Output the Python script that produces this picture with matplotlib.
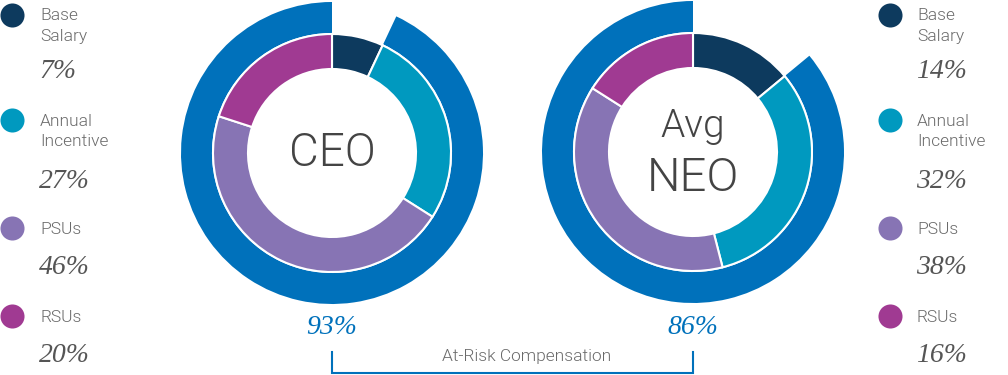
import matplotlib
matplotlib.use('Agg')
import matplotlib.pyplot as plt

# datos
categories = ['Base\nSalary', 'Annual\nIncentive', 'PSUs', 'RSUs']
ceo_mix = [7, 27, 46, 20]
neo_mix = [14, 32, 38, 16]
ceo_at_risk = 93
neo_at_risk = 86
center_labels = ['CEO', 'Avg\nNEO']

mix_colors = ['#0d3a5e', '#0099bf', '#8774b4', '#a03a92']
blue = '#0071bb'
grey = '#555555'
SANS = 'Roboto'
W = 300

fig = plt.figure(figsize=(10.08, 3.75), dpi=100)
ax = fig.add_axes([0, 0, 1, 1])
H = 375

def donut(cx, cy, mix, at_risk, label):
    # anillo exterior: compensacion en riesgo
    outer, _ = ax.pie([100 - at_risk, at_risk], colors=['white', blue],
                      startangle=90, counterclock=False, radius=151,
                      center=(cx, cy), wedgeprops=dict(width=31, linewidth=0))
    outer[0].set_visible(False)
    # anillo interior: mezcla
    ax.pie(mix, colors=mix_colors, startangle=90, counterclock=False,
           radius=119, center=(cx, cy),
           wedgeprops=dict(width=35, edgecolor='white', linewidth=1.5))
    if '\n' in label:
        top, bot = label.split('\n')
        ax.text(cx, cy + 26, top, ha='center', va='center', fontsize=28,
                family=SANS, weight=W, color='#444444')
        ax.text(cx, cy - 26, bot, ha='center', va='center', fontsize=34,
                family=SANS, weight=W, color='#444444')
    else:
        ax.text(cx, cy, label, ha='center', va='center', fontsize=33,
                family=SANS, weight=W, color='#444444')

donut(332, H - 153, ceo_mix, ceo_at_risk, center_labels[0])
donut(693, H - 152, neo_mix, neo_at_risk, center_labels[1])

# leyendas
dot_y = [15, 120, 228, 316]
pct_y = [72, 182, 267, 355]
for dx, tx, vals in [(12, 40, ceo_mix), (890, 917, neo_mix)]:
    for i, cat in enumerate(categories):
        ax.scatter([dx], [H - dot_y[i]], s=300, color=mix_colors[i],
                   linewidths=0, zorder=3)
        lines = cat.split('\n')
        for j, ln in enumerate(lines):
            ax.text(tx, H - (dot_y[i] + 1 + 21 * j), ln, ha='left',
                    va='center', fontsize=12.5, family=SANS, weight=W,
                    color='#6a6a6a')
        ax.text(tx - 1, H - pct_y[i], '%d%%' % vals[i], ha='left', va='center',
                fontsize=20, family='Liberation Serif', style='italic',
                color=grey)

# at-risk
ax.text(332, H - 328, '%d%%' % ceo_at_risk, ha='center', va='center',
        fontsize=20, family='Liberation Serif', style='italic', color=blue)
ax.text(693, H - 328, '%d%%' % neo_at_risk, ha='center', va='center',
        fontsize=20, family='Liberation Serif', style='italic', color=blue)
ax.plot([332, 332, 693, 693], [H - 352, H - 373, H - 373, H - 352],
        color=blue, linewidth=1.5, solid_joinstyle='miter')
ax.text(527, H - 357, 'At-Risk Compensation', ha='center', va='center',
        fontsize=12.5, family=SANS, weight=W, color='#6a6a6a')

ax.set_xlim(0, 1008)
ax.set_ylim(0, H)
ax.set_aspect('equal')
ax.axis('off')
fig.savefig('out.png', dpi=100)
